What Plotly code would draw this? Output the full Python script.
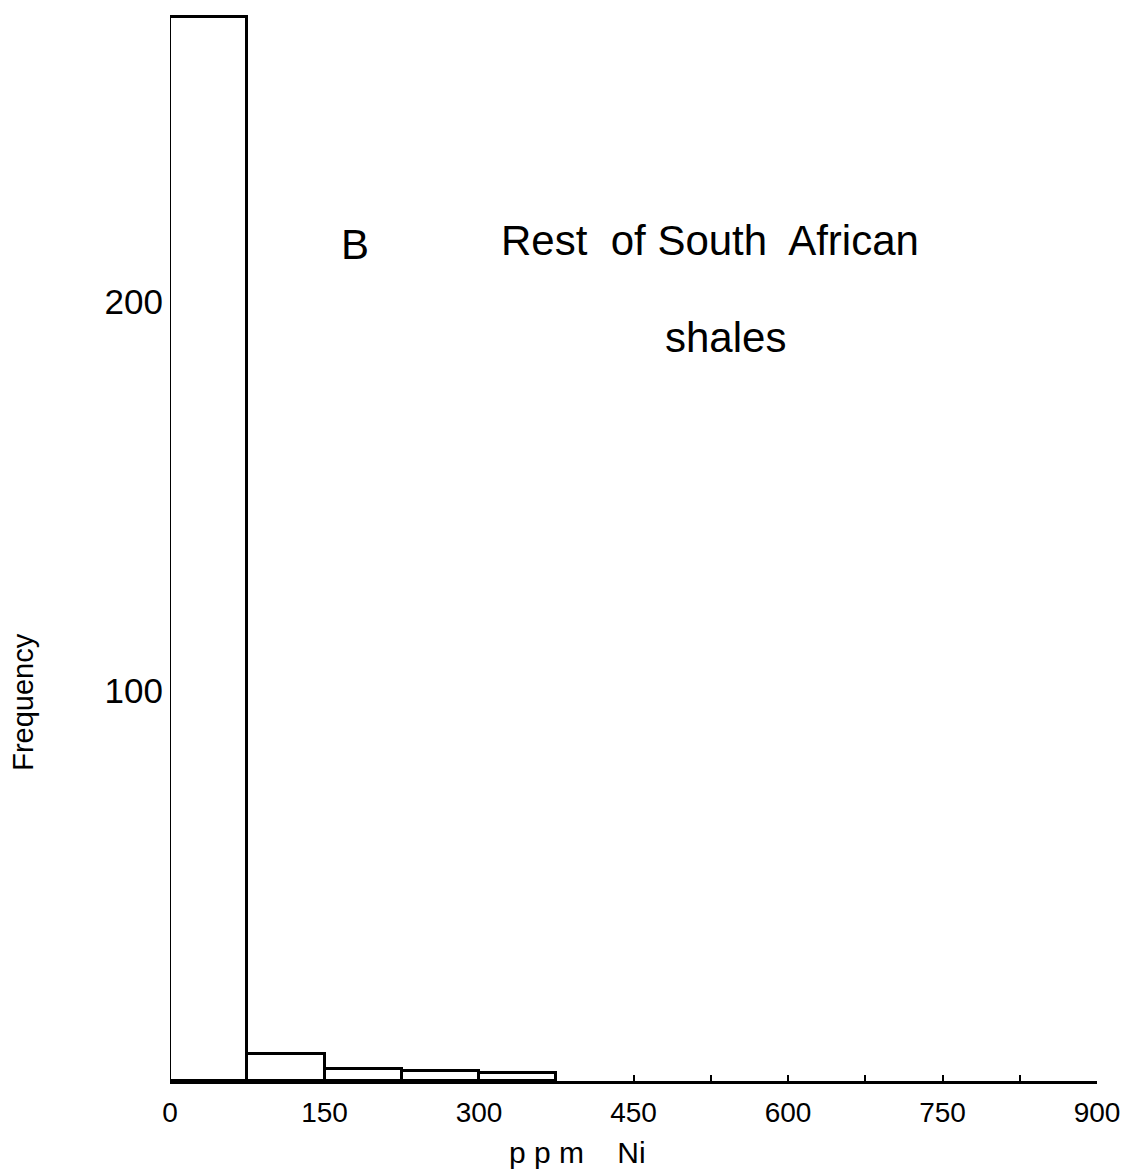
import plotly.graph_objects as go

bin_left = [0, 75, 150, 225, 300]
bin_width = 75
frequency = [273, 7, 3, 2.5, 2]
x_tickvals = [0, 75, 150, 225, 300, 375, 450, 525, 600, 675, 750, 825, 900]
x_ticktext = ["0", "", "150", "", "300", "", "450", "", "600", "", "750", "", "900"]
y_tickvals = [100, 200]
y_ticktext = ["100", "200"]

centers = [b + bin_width / 2 for b in bin_left]

fig = go.Figure()
fig.add_trace(go.Bar(
    x=centers, y=frequency, width=[bin_width] * len(centers),
    marker=dict(color="white", line=dict(color="black", width=3)),
    showlegend=False, hoverinfo="skip",
))

font = "Liberation Sans, Arial, sans-serif"

fig.update_layout(
    width=1125, height=1169,
    margin=dict(l=170, r=28, t=5, b=88),
    paper_bgcolor="white", plot_bgcolor="white",
    bargap=0,
    xaxis=dict(
        range=[0, 900], showline=True, linecolor="black", linewidth=3,
        showgrid=False, zeroline=False,
        tickmode="array", tickvals=x_tickvals, ticktext=x_ticktext,
        ticks="inside", ticklen=6, tickwidth=2, tickcolor="black",
        tickfont=dict(family=font, size=28, color="black"),
        ticklabelstandoff=4,
    ),
    yaxis=dict(
        range=[0, 276], showline=False, showgrid=False, zeroline=False,
        tickmode="array", tickvals=y_tickvals, ticktext=y_ticktext,
        ticks="", tickfont=dict(family=font, size=35, color="black"),
        ticklabelstandoff=6,
    ),
    annotations=[
        dict(text="B", x=180, y=214.6, xref="x", yref="y", showarrow=False,
             xanchor="center", yanchor="middle",
             font=dict(family=font, size=42, color="black")),
        dict(text="Rest  of South  African", x=524, y=215.6, xref="x", yref="y", showarrow=False,
             xanchor="center", yanchor="middle",
             font=dict(family=font, size=42, color="black")),
        dict(text="shales", x=539, y=190.8, xref="x", yref="y", showarrow=False,
             xanchor="center", yanchor="middle",
             font=dict(family=font, size=42, color="black")),
        dict(text="Frequency", x=-0.158, y=0.352, xref="paper", yref="paper", showarrow=False,
             xanchor="center", yanchor="middle",
             textangle=-90, font=dict(family=font, size=29, color="black")),
        dict(text="p p m    Ni", x=0.44, y=-0.066, xref="paper", yref="paper", showarrow=False,
             xanchor="center", yanchor="middle",
             font=dict(family=font, size=30, color="black")),
    ],
)

fig.write_html("out.html")
